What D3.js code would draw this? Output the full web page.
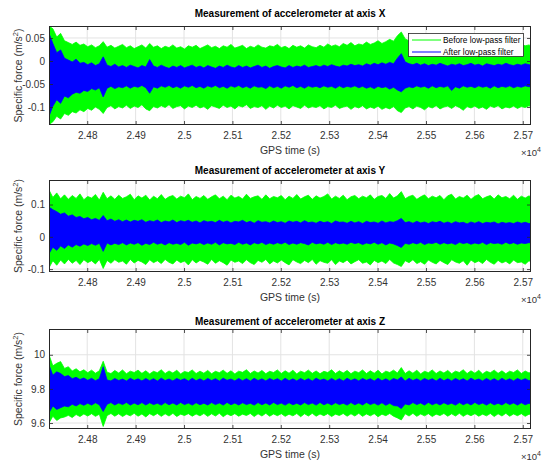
<!DOCTYPE html>
<html>
<head>
<meta charset="utf-8">
<script src="https://cdn.jsdelivr.net/npm/d3@7"></script>
<style>
  body { margin: 0; background: #fff; }
  svg { display: block; font-family: "Liberation Sans", Arial, Helvetica, sans-serif; }
</style>
</head>
<body>
<svg id="chart" width="542" height="463"></svg>
<script>
// Sample instants (GPS seconds) at which the signal envelopes are recorded
const sampleTimes = [
  24721,24729,24737,24745,24753,24761,24769,24777,24785,24793,
  24801,24809,24817,24825,24833,24841,24849,24857,24865,24873,
  24881,24889,24897,24905,24913,24921,24929,24937,24945,24953,
  24961,24969,24977,24985,24993,25001,25009,25017,25025,25033,
  25041,25049,25057,25065,25073,25081,25089,25097,25105,25113,
  25121,25129,25137,25145,25153,25161,25169,25177,25185,25193,
  25201,25209,25217,25225,25233,25241,25249,25257,25265,25273,
  25281,25289,25297,25305,25313,25321,25329,25337,25345,25353,
  25361,25369,25377,25385,25393,25401,25409,25417,25425,25433,
  25441,25449,25457,25465,25473,25481,25489,25497,25505,25513,
  25521,25529,25537,25545,25553,25561,25569,25577,25585,25593,
  25601,25609,25617,25625,25633,25641,25649,25657,25665,25673,
  25681,25689,25697,25705,25713,25717];
const timeRange = [24721, 25717];

// Envelope values below are in mm/s^2
const mmToM = 1e-3;

// ---- Axis X ----
const rawHiX = [76,70,52,60,44,40,36,41,34,37, 31,35,29,33,42,30,34,28,32,36,
  29,33,27,31,35,28,38,30,33,27, 32,29,35,28,31,26,33,30,34,27,
  31,35,29,32,27,33,30,36,28,31, 34,27,32,29,35,30,28,33,31,36,
  29,32,27,34,30,33,28,35,31,29, 34,30,37,32,35,31,38,34,40,33,
  37,35,41,36,39,44,38,42,47,43, 55,63,48,44,40,37,42,35,39,34,
  38,33,37,40,34,36,32,39,35,33, 37,32,36,41,34,38,33,36,31,35,
  38,32,36,33,35,32];
const rawLoX = [-138,-132,-120,-126,-114,-118,-110,-113,-106,-110, -103,-107,-100,-105,-114,-101,-97,-104,-99,-102,
  -96,-103,-98,-101,-95,-104,-108,-99,-102,-97, -101,-95,-103,-99,-97,-104,-98,-101,-96,-102,
  -99,-105,-97,-100,-103,-96,-101,-98,-104,-97, -100,-95,-103,-99,-101,-97,-105,-98,-102,-96,
  -101,-98,-104,-97,-100,-103,-96,-102,-99,-101, -97,-104,-99,-101,-96,-103,-100,-98,-105,-99,
  -102,-97,-104,-100,-103,-98,-105,-101,-104,-99, -108,-112,-102,-99,-104,-98,-101,-106,-99,-102,
  -97,-104,-100,-98,-103,-97,-101,-107,-99,-102, -98,-103,-100,-105,-98,-101,-97,-104,-100,-102,
  -98,-103,-99,-101,-97,-100];
const filtHiX = [60,38,18,24,6,2,-2,4,-5,-3, -8,-4,-10,-6,9,-9,-12,-7,-13,-10,
  -14,-9,-12,-15,-10,-13,3,-11,-14,-9, -13,-16,-11,-14,-10,-15,-12,-9,-14,-11,
  -15,-10,-13,-16,-11,-14,-9,-13,-15,-10, -14,-11,-15,-12,-9,-14,-11,-16,-12,-10,
  -13,-15,-10,-14,-11,-13,-9,-14,-12,-10, -13,-9,-12,-8,-11,-13,-9,-11,-7,-10,
  -8,-11,-6,-9,-5,-8,-4,-7,-3,-6, 6,16,-2,-6,-8,-5,-9,-6,-10,-7,
  -9,-5,-8,-11,-7,-9,-6,-10,-8,-5, -9,-7,-11,-6,-8,-10,-7,-9,-5,-8,
  -10,-7,-9,-6,-8,-9];
const filtLoX = [-120,-98,-84,-92,-76,-80,-72,-68,-70,-64, -66,-60,-63,-58,-78,-59,-55,-60,-56,-58,
  -54,-59,-55,-57,-53,-58,-70,-56,-59,-54, -57,-53,-58,-55,-59,-54,-57,-53,-58,-55,
  -59,-54,-57,-53,-58,-55,-59,-54,-57,-53, -58,-55,-59,-54,-57,-56,-60,-54,-58,-55,
  -59,-54,-57,-53,-58,-55,-59,-54,-57,-55, -58,-54,-57,-55,-59,-54,-58,-55,-57,-54,
  -58,-55,-59,-56,-60,-55,-58,-56,-61,-57, -63,-67,-59,-56,-58,-54,-57,-55,-59,-54,
  -58,-55,-57,-54,-64,-56,-59,-54,-57,-55, -58,-54,-57,-55,-59,-54,-58,-55,-57,-54,
  -58,-55,-57,-54,-56,-55];

// ---- Axis Y ----
const rawHiY = [145,122,136,118,130,116,128,119,133,115, 125,120,131,114,138,118,127,116,129,119,
  124,132,115,127,120,129,114,126,118,131, 116,124,128,117,126,121,133,115,125,119,
  128,116,124,130,118,126,115,129,120,125, 117,132,119,124,127,116,130,118,125,121,
  128,115,126,119,131,117,124,129,116,127, 120,125,133,117,126,119,129,115,124,128,
  118,126,121,130,116,125,128,119,134,120, 127,140,118,125,129,116,124,130,118,126,
  121,128,115,127,132,117,125,120,129,116, 126,131,118,124,128,117,130,121,125,118,
  129,116,126,120,127,122];
const rawLoY = [-96,-74,-88,-72,-84,-70,-82,-73,-86,-71, -80,-74,-84,-70,-98,-73,-82,-71,-79,-75,
  -85,-70,-81,-73,-78,-86,-71,-80,-74,-83, -70,-79,-84,-72,-80,-75,-87,-71,-81,-73,
  -78,-85,-70,-82,-74,-80,-88,-72,-79,-75, -83,-71,-80,-86,-73,-79,-70,-84,-75,-81,
  -72,-80,-87,-71,-78,-83,-73,-80,-70,-85, -74,-79,-82,-71,-86,-75,-80,-72,-84,-77,
  -71,-82,-78,-87,-73,-80,-75,-83,-70,-81, -86,-92,-74,-80,-71,-83,-77,-85,-72,-79,
  -84,-73,-80,-86,-71,-78,-82,-74,-88,-72, -80,-75,-83,-70,-79,-85,-73,-81,-76,-84,
  -72,-80,-78,-85,-74,-79];
const filtHiY = [92,84,78,70,74,64,68,60,63,56, 60,53,57,51,66,50,55,48,53,47,
  52,46,51,48,53,45,50,47,52,44, 49,46,52,44,50,47,51,45,49,43,
  50,46,48,44,51,45,49,43,48,46, 51,44,48,42,50,45,47,43,49,44,
  47,42,49,45,48,43,50,44,46,42, 48,44,47,41,49,45,46,42,48,43,
  47,41,48,44,46,42,49,43,47,45, 50,57,44,47,42,48,43,46,41,47,
  44,48,42,46,41,47,43,45,40,46, 42,47,41,45,43,46,40,45,42,44,
  41,46,42,45,41,43];
const filtLoY = [-52,-32,-42,-28,-36,-25,-32,-24,-29,-22, -27,-21,-26,-20,-45,-19,-25,-20,-24,-18,
  -25,-19,-23,-18,-26,-20,-24,-17,-23,-19, -25,-18,-23,-20,-24,-17,-26,-19,-22,-18,
  -24,-19,-23,-17,-25,-18,-22,-20,-24,-17, -23,-19,-25,-18,-22,-17,-24,-19,-23,-18,
  -22,-17,-24,-19,-23,-18,-21,-25,-17,-22, -19,-23,-17,-24,-18,-22,-19,-23,-17,-21,
  -18,-24,-19,-22,-17,-23,-18,-25,-19,-22, -27,-33,-20,-23,-18,-22,-17,-24,-19,-21,
  -17,-23,-18,-22,-19,-24,-17,-21,-18,-23, -19,-22,-17,-24,-18,-21,-19,-23,-17,-22,
  -18,-23,-19,-21,-18,-20];

// ---- Axis Z ----
const rawHiZ = [10000,9935,9950,9960,9920,9930,9905,9918,9900,9912, 9895,9910,9892,9906,9962,9898,9890,9908,9893,9911,
  9889,9904,9896,9910,9891,9906,9888,9903,9895,9912, 9890,9905,9893,9909,9888,9902,9896,9911,9890,9904,
  9892,9908,9889,9903,9895,9910,9891,9906,9888,9904, 9897,9912,9890,9905,9893,9908,9889,9903,9896,9911,
  9890,9906,9892,9909,9888,9904,9895,9910,9891,9905, 9889,9903,9896,9912,9890,9906,9893,9908,9889,9904,
  9895,9911,9890,9906,9892,9909,9888,9904,9896,9910, 9893,9925,9890,9906,9892,9909,9888,9903,9895,9911,
  9890,9905,9893,9908,9889,9904,9896,9912,9890,9906, 9892,9909,9888,9903,9895,9910,9891,9906,9889,9904,
  9896,9911,9890,9905,9893,9900];
const rawLoZ = [9600,9640,9615,9630,9635,9645,9632,9650,9638,9653, 9641,9655,9639,9652,9580,9644,9656,9640,9654,9638,
  9652,9642,9657,9640,9653,9636,9655,9643,9656,9639, 9654,9641,9657,9638,9652,9644,9655,9640,9653,9642,
  9656,9639,9654,9641,9657,9637,9653,9643,9655,9640, 9652,9644,9656,9638,9654,9641,9657,9640,9653,9643,
  9655,9639,9652,9642,9656,9637,9654,9641,9657,9640, 9653,9643,9655,9638,9652,9644,9656,9640,9654,9641,
  9657,9639,9653,9642,9655,9637,9652,9643,9656,9640, 9630,9618,9654,9641,9657,9639,9653,9642,9655,9638,
  9652,9644,9656,9640,9654,9641,9657,9639,9653,9643, 9655,9640,9652,9642,9656,9638,9654,9641,9657,9640,
  9653,9643,9655,9639,9652,9648];
const filtHiZ = [9940,9880,9900,9890,9872,9878,9860,9868,9855,9864, 9850,9862,9848,9860,9930,9852,9847,9861,9849,9858,
  9846,9862,9850,9859,9847,9861,9848,9860,9846,9863, 9849,9858,9847,9861,9850,9860,9846,9862,9848,9859,
  9847,9861,9849,9860,9846,9863,9850,9858,9847,9861, 9848,9860,9846,9862,9849,9859,9847,9861,9850,9860,
  9846,9862,9848,9859,9847,9861,9849,9860,9846,9863, 9850,9858,9847,9861,9848,9860,9846,9862,9849,9859,
  9847,9861,9850,9860,9846,9862,9848,9859,9847,9861, 9852,9870,9846,9862,9849,9859,9847,9861,9850,9860,
  9846,9862,9848,9859,9847,9861,9849,9860,9846,9863, 9850,9858,9847,9861,9848,9860,9846,9862,9849,9859,
  9847,9861,9850,9860,9848,9855];
const filtLoZ = [9660,9700,9680,9690,9700,9695,9710,9700,9714,9704, 9716,9705,9719,9707,9668,9710,9720,9706,9718,9708,
  9721,9705,9717,9707,9720,9706,9719,9708,9716,9705, 9720,9707,9718,9706,9721,9708,9717,9705,9719,9707,
  9716,9706,9720,9708,9718,9705,9721,9707,9717,9706, 9719,9708,9716,9705,9720,9707,9718,9706,9721,9708,
  9717,9705,9719,9707,9716,9706,9720,9708,9718,9705, 9721,9707,9717,9706,9719,9708,9716,9705,9720,9707,
  9718,9706,9721,9708,9717,9705,9719,9704,9716,9702, 9700,9685,9712,9706,9720,9708,9718,9705,9721,9707,
  9717,9706,9719,9708,9716,9705,9720,9707,9718,9706, 9721,9708,9717,9705,9719,9707,9716,9706,9720,9708,
  9718,9705,9719,9707,9716,9710];

// Tick values and labels
const xTickValues = [24800,24900,25000,25100,25200,25300,25400,25500,25600,25700];
const xTickLabels = ["2.48","2.49","2.5","2.51","2.52","2.53","2.54","2.55","2.56","2.57"];
const yTickValuesX = [-0.1,-0.05,0,0.05];
const yTickLabelsX = ["-0.1","-0.05","0","0.05"];
const yTickValuesY = [-0.1,0,0.1];
const yTickLabelsY = ["-0.1","0","0.1"];
const yTickValuesZ = [9.6,9.8,10];
const yTickLabelsZ = ["9.6","9.8","10"];

const titles = ["Measurement of accelerometer at axis X",
                "Measurement of accelerometer at axis Y",
                "Measurement of accelerometer at axis Z"];
const seriesNames = ["Before low-pass filter", "After low-pass filter"];
const seriesColors = ["#00ff00", "#0000ff"];

// ---- layout ----
const plotLeft = 49, plotRight = 531;
const panels = [
  { top: 26,  bottom: 125, titleY: 17, domain: [-0.139, 0.076], ticks: yTickValuesX, labels: yTickLabelsX,
    rawHi: rawHiX, rawLo: rawLoX, filtHi: filtHiX, filtLo: filtLoX, legend: true },
  { top: 180, bottom: 272, titleY: 174, domain: [-0.109, 0.176], ticks: yTickValuesY, labels: yTickLabelsY,
    rawHi: rawHiY, rawLo: rawLoY, filtHi: filtHiY, filtLo: filtLoY },
  { top: 329, bottom: 429, titleY: 325, domain: [9.565, 10.151], ticks: yTickValuesZ, labels: yTickLabelsZ,
    rawHi: rawHiZ, rawLo: rawLoZ, filtHi: filtHiZ, filtLo: filtLoZ }
];

const svg = d3.select("#chart");
const x = d3.scaleLinear().domain(timeRange).range([plotLeft, plotRight]);
const axisColor = "#262626";
const gridColor = "#e3e3e3";

panels.forEach((p, k) => {
  const y = d3.scaleLinear().domain(p.domain).range([p.bottom, p.top]);
  const g = svg.append("g");

  // clip region for the signal
  const clipId = "clip" + k;
  svg.append("clipPath").attr("id", clipId)
    .append("rect").attr("x", plotLeft).attr("y", p.top)
    .attr("width", plotRight - plotLeft).attr("height", p.bottom - p.top);

  // grid lines
  g.append("g").selectAll("line").data(xTickValues).join("line")
    .attr("x1", d => x(d)).attr("x2", d => x(d))
    .attr("y1", p.top).attr("y2", p.bottom)
    .attr("stroke", gridColor).attr("stroke-width", 1);
  g.append("g").selectAll("line").data(p.ticks).join("line")
    .attr("x1", plotLeft).attr("x2", plotRight)
    .attr("y1", d => y(d)).attr("y2", d => y(d))
    .attr("stroke", gridColor).attr("stroke-width", 1);

  // signal envelopes (before filter underneath, filtered on top)
  const idx = d3.range(sampleTimes.length);
  const areaOf = (hi, lo) => d3.area()
    .x(i => x(sampleTimes[i]))
    .y0(i => y(lo[i] * mmToM))
    .y1(i => y(hi[i] * mmToM));
  const data = g.append("g").attr("clip-path", `url(#${clipId})`);
  data.append("path").attr("d", areaOf(p.rawHi, p.rawLo)(idx))
    .attr("fill", seriesColors[0]).attr("stroke", seriesColors[0]).attr("stroke-width", 0.8);
  data.append("path").attr("d", areaOf(p.filtHi, p.filtLo)(idx))
    .attr("fill", seriesColors[1]).attr("stroke", seriesColors[1]).attr("stroke-width", 0.8);

  // axes (ticks pointing inward)
  const bottomAxis = d3.axisBottom(x).tickValues(xTickValues)
    .tickFormat((d, i) => xTickLabels[i]).tickSizeInner(-4).tickSizeOuter(0).tickPadding(7);
  const topAxis = d3.axisTop(x).tickValues(xTickValues).tickFormat("").tickSizeInner(-4).tickSizeOuter(0);
  const leftAxis = d3.axisLeft(y).tickValues(p.ticks)
    .tickFormat((d, i) => p.labels[i]).tickSizeInner(-4).tickSizeOuter(0).tickPadding(4);
  const rightAxis = d3.axisRight(y).tickValues(p.ticks).tickFormat("").tickSizeInner(-4).tickSizeOuter(0);

  const styleAxis = sel => {
    sel.select(".domain").remove();
    sel.selectAll("line").attr("stroke", axisColor).attr("stroke-width", 0.8);
    sel.selectAll("text").attr("fill", "#333").attr("font-size", 10)
      .attr("font-family", "'Liberation Sans', Arial, sans-serif");
  };
  g.append("g").attr("transform", `translate(0,${p.bottom})`).call(bottomAxis).call(styleAxis);
  g.append("g").attr("transform", `translate(0,${p.top})`).call(topAxis).call(styleAxis);
  g.append("g").attr("transform", `translate(${plotLeft},0)`).call(leftAxis).call(styleAxis);
  g.append("g").attr("transform", `translate(${plotRight},0)`).call(rightAxis).call(styleAxis);

  // axes box
  g.append("rect").attr("x", plotLeft + 0.5).attr("y", p.top + 0.5)
    .attr("width", plotRight - plotLeft - 1).attr("height", p.bottom - p.top - 1)
    .attr("fill", "none").attr("stroke", axisColor).attr("stroke-width", 1);

  // title
  g.append("text").attr("x", (plotLeft + plotRight) / 2).attr("y", p.titleY)
    .attr("text-anchor", "middle").attr("font-size", 10).attr("font-weight", "bold")
    .attr("fill", "#000").text(titles[k]);

  // x label
  g.append("text").attr("x", (plotLeft + plotRight) / 2).attr("y", p.bottom + 29)
    .attr("text-anchor", "middle").attr("font-size", 10.5).attr("fill", "#333")
    .text("GPS time (s)");

  // exponent marker
  const ex = g.append("text").attr("x", 541).attr("y", p.bottom + 31)
    .attr("text-anchor", "end").attr("font-size", 9.5).attr("fill", "#333");
  ex.append("tspan").text("\u00d710");
  ex.append("tspan").attr("dy", -4).attr("font-size", 7).text("4");

  // y label
  const yl = g.append("text")
    .attr("transform", `translate(22,${(p.top + p.bottom) / 2}) rotate(-90)`)
    .attr("text-anchor", "middle").attr("font-size", 10.5).attr("fill", "#333");
  yl.append("tspan").text("Specific force (m/s");
  yl.append("tspan").attr("dy", -4).attr("font-size", 7.5).text("2");
  yl.append("tspan").attr("dy", 4).text(")");

  // legend
  if (p.legend) {
    const lg = g.append("g").attr("transform", "translate(408,33)");
    lg.append("rect").attr("x", 0.5).attr("y", 0.5).attr("width", 115).attr("height", 23)
      .attr("fill", "#fff").attr("stroke", axisColor).attr("stroke-width", 0.8);
    seriesNames.forEach((name, i) => {
      const yy = 7 + i * 12;
      lg.append("line").attr("x1", 4).attr("x2", 33).attr("y1", yy).attr("y2", yy)
        .attr("stroke", seriesColors[i]).attr("stroke-width", 1);
      lg.append("text").attr("x", 35).attr("y", yy + 3).attr("font-size", 8.3)
        .attr("fill", "#000").text(name);
    });
  }
});
</script>
</body>
</html>
